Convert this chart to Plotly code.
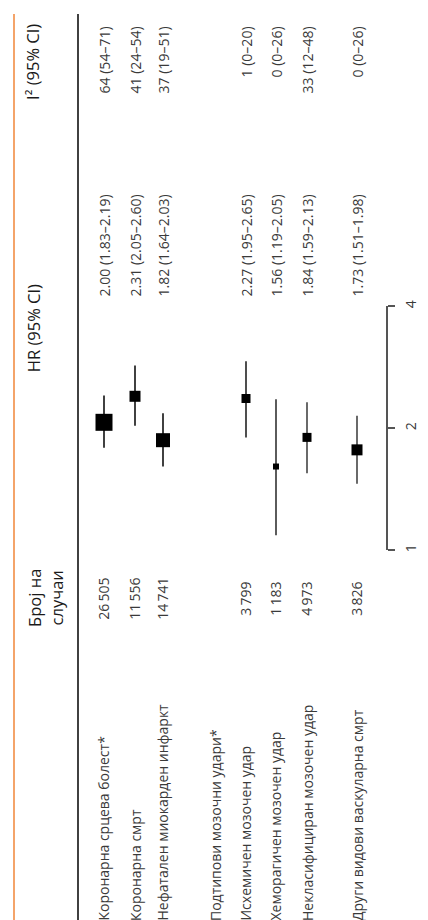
import math
import plotly.graph_objects as go

# ---------------- data ----------------
labels = ["Коронарна срцева болест*", "Коронарна смрт", "Нефатален миокарден инфаркт",
          "Подтипови мозочни удари*", "Исхемичен мозочен удар", "Хеморагичен мозочен удар",
          "Некласифициран мозочен удар", "Други видови васкуларна смрт"]
cases = ["26\u2009505", "11\u2009556", "14\u2009741", "", "3\u2009799", "1\u2009183", "4\u2009973", "3\u2009826"]
hr_text = ["2.00 (1.83–2.19)", "2.31 (2.05–2.60)", "1.82 (1.64–2.03)", "",
           "2.27 (1.95–2.65)", "1.56 (1.19–2.05)", "1.84 (1.59–2.13)", "1.73 (1.51–1.98)"]
i2_text = ["64 (54–71)", "41 (24–54)", "37 (19–51)", "",
           "1 (0–20)", "0 (0–26)", "33 (12–48)", "0 (0–26)"]
# plotted estimates as drawn in the picture
hr_plot = [2.07, 2.40, 1.87, None, 2.37, 1.61, 1.90, 1.77]
lo_plot = [1.79, 2.03, 1.61, None, 1.90, 1.09, 1.55, 1.46]
hi_plot = [2.41, 2.86, 2.18, None, 2.93, 2.36, 2.32, 2.15]
tick_vals = [1, 2, 4]
tick_text = ["1", "2", "4"]
ref_hr = 1

headers = {"cases": "Број на<br>случаи", "hr": "HR (95% CI)", "i2": "I² (95% CI)"}

# ---------------- layout / style ----------------
W, H = 428, 920
row_px = [96, 127, 155, 207, 238, 268, 299, 349]
marker_px = [17, 11, 14, None, 9, 6, 9, 11]
ci_colors = ["#111", "#111", "#111", None, "#222", "#333", "#444", "#444"]
FONT = "Open Sans"
TXT = "#3a3a3a"


def py(pix):
    return 1 - pix / H


fig = go.Figure()

for i in range(len(labels)):
    if hr_plot[i] is None:
        continue
    fig.add_trace(go.Scatter(
        x=[row_px[i], row_px[i]], y=[lo_plot[i], hi_plot[i]],
        mode="lines", line=dict(color=ci_colors[i], width=1.6),
        xaxis="x", yaxis="y2", showlegend=False, hoverinfo="skip"))
    fig.add_trace(go.Scatter(
        x=[row_px[i]], y=[hr_plot[i]], mode="markers",
        marker=dict(symbol="square", size=marker_px[i], color="#000", line=dict(width=0)),
        xaxis="x", yaxis="y2", showlegend=False, cliponaxis=False))

annotations = []
for i, lab in enumerate(labels):
    x = row_px[i]
    annotations.append(dict(x=x, xref="x", y=py(917), yref="paper", text=lab,
                            textangle=-90, xanchor="center", yanchor="bottom",
                            showarrow=False, font=dict(family=FONT, size=14, color=TXT)))
    if cases[i]:
        annotations.append(dict(x=x, xref="x", y=py(590), yref="paper", text=cases[i],
                                textangle=-90, xanchor="center", yanchor="middle",
                                showarrow=False, font=dict(family=FONT, size=14, color=TXT)))
    if hr_text[i]:
        annotations.append(dict(x=x, xref="x", y=py(180), yref="paper", text=hr_text[i],
                                textangle=-90, xanchor="center", yanchor="top",
                                showarrow=False, font=dict(family=FONT, size=14, color=TXT)))
    if i2_text[i]:
        annotations.append(dict(x=x, xref="x", y=py(11), yref="paper", text=i2_text[i],
                                textangle=-90, xanchor="center", yanchor="top",
                                showarrow=False, font=dict(family=FONT, size=14, color=TXT)))

hfont = dict(family=FONT, size=16.5, color="#1a1a1a")
annotations.append(dict(x=37, xref="x", y=py(589), yref="paper", text=headers["cases"],
                        textangle=-90, xanchor="center", yanchor="middle", align="center",
                        showarrow=False, font=hfont))
annotations.append(dict(x=25, xref="x", y=py(317), yref="paper", text=headers["hr"],
                        textangle=-90, xanchor="center", yanchor="middle",
                        showarrow=False, font=hfont))
annotations.append(dict(x=25, xref="x", y=py(8), yref="paper", text=headers["i2"],
                        textangle=-90, xanchor="center", yanchor="top",
                        showarrow=False, font=hfont))

shapes = [
    dict(type="line", xref="x", yref="paper", x0=6, x1=6, y0=0, y1=1,
         line=dict(color="#F4A46A", width=2)),
    dict(type="line", xref="x", yref="paper", x0=70, x1=70, y0=0, y1=1,
         line=dict(color="#111", width=1.6)),
    dict(type="line", xref="x", yref="y2", x0=70, x1=386,
         y0=math.log10(ref_hr), y1=math.log10(ref_hr),
         line=dict(color="#555", width=1.8)),
]

fig.update_layout(
    width=W, height=H, autosize=False,
    margin=dict(l=0, r=0, t=0, b=0),
    paper_bgcolor="white", plot_bgcolor="rgba(0,0,0,0)",
    xaxis=dict(range=[0, W], domain=[0, 1], visible=False, fixedrange=True),
    yaxis=dict(visible=False, range=[0, 1]),
    yaxis2=dict(type="log", range=[math.log10(tick_vals[0]), math.log10(tick_vals[-1])],
                domain=[py(541), py(295)], anchor="free", position=379 / W, side="right",
                showline=True, linecolor="#555", linewidth=1.8,
                ticks="outside", ticklen=7, tickwidth=1.6, tickcolor="#555",
                tickvals=tick_vals, ticktext=tick_text, tickangle=-90,
                ticklabelstandoff=4,
                tickfont=dict(family=FONT, size=14, color=TXT),
                showgrid=False, zeroline=False, fixedrange=True),
    annotations=annotations, shapes=shapes,
    showlegend=False,
)

fig.write_html("out.html")
